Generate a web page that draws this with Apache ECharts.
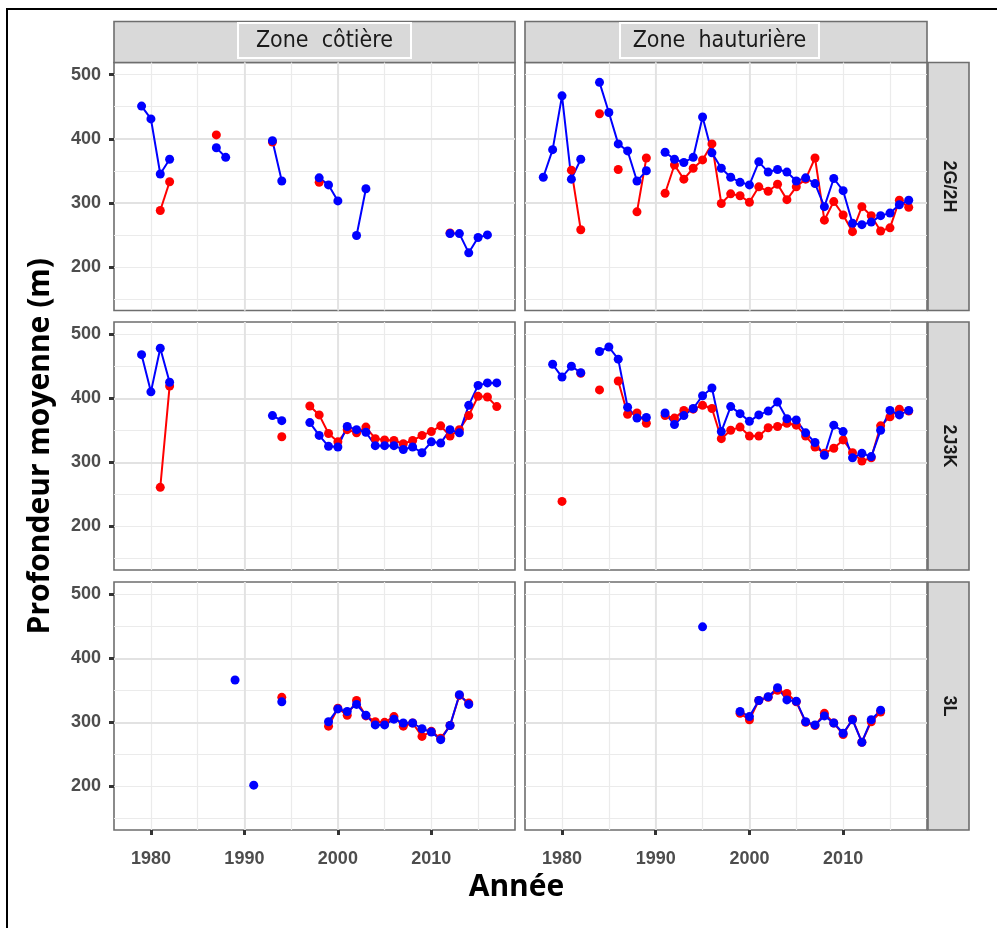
<!DOCTYPE html>
<html>
<head>
<meta charset="utf-8">
<script src="https://cdn.jsdelivr.net/npm/echarts@6/dist/echarts.min.js"></script>
<style>
  html, body { margin: 0; padding: 0; background: #ffffff; }
  #chart { width: 997px; height: 928px; }
</style>
</head>
<body>
<div id="chart"></div>
<script>
// Years covered by every series (1978-2017); null marks a year without a value.
const years = [
  1978, 1979, 1980, 1981, 1982, 1983, 1984, 1985, 1986, 1987,
  1988, 1989, 1990, 1991, 1992, 1993, 1994, 1995, 1996, 1997,
  1998, 1999, 2000, 2001, 2002, 2003, 2004, 2005, 2006, 2007,
  2008, 2009, 2010, 2011, 2012, 2013, 2014, 2015, 2016, 2017
];

const zones = ['Zone  côtière', 'Zone  hauturière'];
const divisions = ['2G/2H', '2J3K', '3L'];
const yTicks = [200, 300, 400, 500];
const xTicks = [1980, 1990, 2000, 2010];

// 2G/2H
const cotier2G_bleu = [
  null, 451, 431, 345, 368, null, null, null, null, 386,
  371, null, null, null, null, 397, 334, null, null, null,
  339, 328, 303, null, 249, 322, null, null, null, null,
  null, null, null, null, 252, 252, 222, 246, 250, null
];
const cotier2G_rouge = [
  null, null, null, 288, 333, null, null, null, null, 406,
  null, null, null, null, null, 395, null, null, null, null,
  332, null, null, null, null, null, null, null, null, null,
  null, null, null, null, 253, null, null, null, null, null
];
const hauturier2G_bleu = [
  340, 383, 467, 337, 368, null, 488, 441, 392, 381,
  334, 350, null, 379, 368, 363, 371, 434, 378, 354,
  340, 332, 328, 364, 348, 352, 348, 334, 339, 330,
  294, 338, 319, 268, 266, 270, 280, 284, 297, 304
];
const hauturier2G_rouge = [
  null, null, null, 351, 258, null, 439, null, 352, null,
  286, 370, null, 315, 359, 337, 354, 367, 392, 299,
  314, 311, 301, 325, 318, 329, 305, 325, 337, 370,
  273, 302, 281, 255, 294, 280, 256, 261, 304, 293
];

// 2J3K
const cotier2J_bleu = [
  null, 468, 410, 478, 425, null, null, null, null, null,
  null, null, null, null, null, 373, 365, null, null, 362,
  342, 325, 324, 356, 351, 347, 326, 326, 326, 320,
  324, 315, 332, 330, 351, 346, 389, 420, 424, 424
];
const cotier2J_rouge = [
  null, null, null, 261, 419, null, null, null, null, null,
  null, null, null, null, null, null, 340, null, null, 388,
  374, 345, 332, 351, 346, 355, 337, 335, 334, 329,
  334, 342, 348, 357, 341, 351, 373, 403, 402, 387
];
const hauturier2J_bleu = [
  null, 453, 433, 450, 440, null, 473, 480, 461, 386,
  369, 370, null, 377, 359, 373, 384, 404, 416, 348,
  387, 376, 364, 374, 380, 394, 368, 366, 346, 331,
  311, 358, 348, 307, 314, 309, 350, 381, 374, 381
];
const hauturier2J_rouge = [
  null, null, 239, null, 439, null, 413, null, 427, 375,
  377, 361, null, 373, 369, 381, 383, 389, 384, 337,
  350, 355, 341, 341, 354, 356, 361, 358, 341, 324,
  314, 322, 335, 315, 302, 307, 357, 371, 383, 380
];

// 3L
const cotier3L_bleu = [
  null, null, null, null, null, null, null, null, null, null,
  null, 366, null, 202, null, null, 332, null, null, null,
  null, 301, 321, 317, 328, 311, 296, 296, 305, 299,
  299, 290, 285, 273, 295, 343, 328, null, null, null
];
const cotier3L_rouge = [
  null, null, null, null, null, null, null, null, null, null,
  null, null, null, null, null, null, 339, null, null, null,
  null, 294, 322, 311, 334, 310, 301, 300, 309, 294,
  299, 278, 286, 275, 295, 342, 330, null, null, null
];
const hauturier3L_bleu = [
  null, null, null, null, null, null, null, null, null, null,
  null, null, null, null, null, null, null, 449, null, null,
  null, 317, 309, 334, 340, 354, 335, 333, 301, 296,
  310, 299, 283, 304, 269, 304, 319, null, null, null
];
const hauturier3L_rouge = [
  null, null, null, null, null, null, null, null, null, null,
  null, null, null, null, null, null, null, null, null, null,
  null, 314, 304, 334, 339, 350, 345, 332, 300, 295,
  314, 299, 281, 305, 269, 301, 316, null, null, null
];

// Facet panels: one per (division, zone)
const panels = [
  { row: 0, col: 0, red: cotier2G_rouge,    blue: cotier2G_bleu },
  { row: 0, col: 1, red: hauturier2G_rouge, blue: hauturier2G_bleu },
  { row: 1, col: 0, red: cotier2J_rouge,    blue: cotier2J_bleu },
  { row: 1, col: 1, red: hauturier2J_rouge, blue: hauturier2J_bleu },
  { row: 2, col: 0, red: cotier3L_rouge,    blue: cotier3L_bleu },
  { row: 2, col: 1, red: hauturier3L_rouge, blue: hauturier3L_bleu }
];

// ---- layout ----
const colLeft = [114, 525];
const colWidth = [401, 402];
const rowTop = [62.5, 322, 582];
const rowHeight = 248;
const stripTop = 21.5, stripHeight = 41;
const rightStripX = 928, rightStripW = 41;
const Y_MIN = 132, Y_MAX = 519;
const X_MIN = 1976.05, X_MAX = 2018.95;

const RED = '#ff0000', BLUE = '#0000ff';
const BORDER = '#6e6e6e';
const STRIP_FILL = '#d9d9d9';
const TICK_COLOR = '#333333';
const LABEL_COLOR = '#4d4d4d';

const grids = [], xAxes = [], yAxes = [], series = [];

function toPairs(vals) {
  return years.map((y, k) => [y, vals[k]]);
}

panels.forEach((p, i) => {
  grids.push({
    left: colLeft[p.col], top: rowTop[p.row],
    width: colWidth[p.col], height: rowHeight,
    show: true, backgroundColor: '#ffffff',
    borderColor: BORDER, borderWidth: 1.6
  });

  const bottomRow = p.row === 2;
  const leftCol = p.col === 0;

  // minor grid (5-year / 50 m)
  xAxes.push({
    gridIndex: i, type: 'value', position: 'top', min: X_MIN, max: X_MAX, splitNumber: 8,
    axisLine: { show: false }, axisTick: { show: false }, axisLabel: { show: false },
    splitLine: { show: true, showMinLine: false, showMaxLine: false, lineStyle: { color: '#ebebeb', width: 1.2 } },
    z: 0
  });
  yAxes.push({
    gridIndex: i, type: 'value', position: 'right', min: Y_MIN, max: Y_MAX, splitNumber: 8,
    axisLine: { show: false }, axisTick: { show: false }, axisLabel: { show: false },
    splitLine: { show: true, showMinLine: false, showMaxLine: false, lineStyle: { color: '#ebebeb', width: 1.2 } },
    z: 0
  });

  // major grid, ticks and labels
  xAxes.push({
    gridIndex: i, type: 'value', position: 'bottom', min: X_MIN, max: X_MAX, splitNumber: 4,
    axisLine: { show: false },
    axisTick: { show: bottomRow, customValues: xTicks, length: 5, lineStyle: { color: TICK_COLOR, width: 3 } },
    axisLabel: {
      show: bottomRow, customValues: xTicks, margin: 20,
      fontSize: 18, fontWeight: 'bold', color: LABEL_COLOR, fontFamily: 'Liberation Sans, Arial, sans-serif',
      formatter: v => (xTicks.indexOf(Math.round(v)) >= 0 && Math.abs(v - Math.round(v)) < 1e-6) ? String(Math.round(v)) : ''
    },
    splitLine: { show: true, showMinLine: false, showMaxLine: false, lineStyle: { color: '#e2e2e2', width: 1.8 } },
    z: 1
  });
  yAxes.push({
    gridIndex: i, type: 'value', position: 'left', min: Y_MIN, max: Y_MAX, splitNumber: 4,
    axisLine: { show: false },
    axisTick: { show: leftCol, customValues: yTicks, length: 5, lineStyle: { color: TICK_COLOR, width: 3 } },
    axisLabel: {
      show: leftCol, customValues: yTicks, margin: 13,
      fontSize: 18, fontWeight: 'bold', color: LABEL_COLOR, fontFamily: 'Liberation Sans, Arial, sans-serif',
      formatter: v => (yTicks.indexOf(Math.round(v)) >= 0 && Math.abs(v - Math.round(v)) < 1e-6) ? String(Math.round(v)) : ''
    },
    splitLine: { show: true, showMinLine: false, showMaxLine: false, lineStyle: { color: '#e2e2e2', width: 1.8 } },
    z: 1
  });

  const axisIdx = 2 * i + 1;
  [[p.red, RED], [p.blue, BLUE]].forEach(([vals, color]) => {
    series.push({
      type: 'line', xAxisIndex: axisIdx, yAxisIndex: axisIdx,
      data: toPairs(vals), connectNulls: false,
      symbol: 'circle', symbolSize: 9, showSymbol: true, showAllSymbol: true,
      itemStyle: { color: color },
      lineStyle: { color: color, width: 2 },
      emphasis: { disabled: true },
      z: 3
    });
  });
});

// ---- strips, titles and frame ----
const graphics = [];
graphics.push({
  type: 'rect', z: 100, silent: true,
  shape: { x: 7, y: 9, width: 1000, height: 930 },
  style: { fill: null, stroke: '#000000', lineWidth: 2 }
});

const boxSpec = [
  { x: 238, w: 173 },
  { x: 620, w: 199 }
];
zones.forEach((name, c) => {
  graphics.push({
    type: 'rect', silent: true,
    shape: { x: colLeft[c], y: stripTop, width: colWidth[c], height: stripHeight },
    style: { fill: STRIP_FILL, stroke: BORDER, lineWidth: 1.6 }
  });
  graphics.push({
    type: 'rect', silent: true,
    shape: { x: boxSpec[c].x, y: stripTop + 1.5, width: boxSpec[c].w, height: 35 },
    style: { fill: STRIP_FILL, stroke: '#ffffff', lineWidth: 2 }
  });
  graphics.push({
    type: 'text', silent: true,
    x: boxSpec[c].x + boxSpec[c].w / 2, y: stripTop + 19.5,
    style: {
      text: name, fill: '#1a1a1a', font: 'normal 23px "DejaVu Sans Condensed", "DejaVu Sans", sans-serif',
      align: 'center', verticalAlign: 'middle'
    },
    scaleX: 1.0
  });
});

divisions.forEach((name, r) => {
  graphics.push({
    type: 'rect', silent: true,
    shape: { x: rightStripX, y: rowTop[r], width: rightStripW, height: rowHeight },
    style: { fill: STRIP_FILL, stroke: BORDER, lineWidth: 1.6 }
  });
  graphics.push({
    type: 'text', silent: true,
    x: rightStripX + rightStripW / 2, y: rowTop[r] + rowHeight / 2,
    rotation: -Math.PI / 2,
    style: {
      text: name, fill: '#1a1a1a', font: 'bold 18px "Liberation Sans", Arial, sans-serif',
      align: 'center', verticalAlign: 'middle'
    }
  });
});

graphics.push({
  type: 'text', silent: true,
  x: 40, y: (rowTop[0] + rowTop[2] + rowHeight) / 2,
  rotation: Math.PI / 2,
  style: {
    text: 'Profondeur moyenne (m)', fill: '#000000',
    font: 'bold 30px "Open Sans", "Noto Sans", sans-serif',
    align: 'center', verticalAlign: 'middle'
  }
});
graphics.push({
  type: 'text', silent: true,
  x: (colLeft[0] + colLeft[1] + colWidth[1]) / 2 - 4, y: 887,
  style: {
    text: 'Année', fill: '#000000',
    font: 'bold 30px "Open Sans", "Noto Sans", sans-serif',
    align: 'center', verticalAlign: 'middle'
  }
});

const chart = echarts.init(document.getElementById('chart'), null, { renderer: 'canvas' });
chart.setOption({
  animation: false,
  backgroundColor: '#ffffff',
  grid: grids,
  xAxis: xAxes,
  yAxis: yAxes,
  series: series,
  graphic: graphics
});
</script>
</body>
</html>
